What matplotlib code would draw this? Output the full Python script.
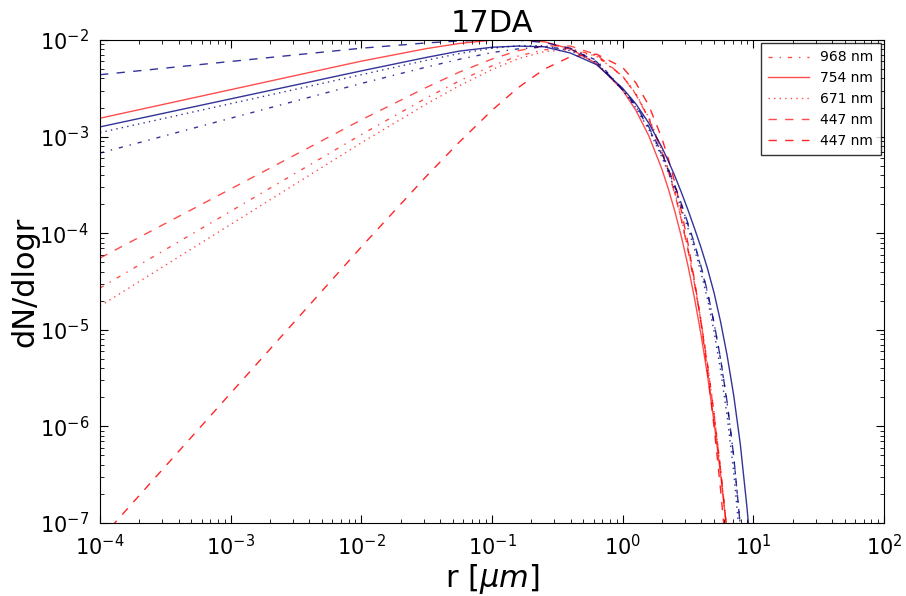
import matplotlib
matplotlib.use("Agg")
import matplotlib.pyplot as plt

# radius grid shared by all curves [um]
r = [1e-4, 1e-2, 3.16e-2, 5.62e-2, 1.0e-1, 1.58e-1, 2.51e-1, 3.98e-1, 6.31e-1,
     1.0, 1.259, 1.585, 1.995, 2.239, 2.512, 2.818, 3.162, 3.548, 3.981, 4.467,
     5.012, 5.623, 6.310, 7.079, 7.943, 8.913, 10.0]

# red set (labelled)
red_968 = [2.71e-5, 1.05e-3, 2.52e-3, 3.77e-3, 5.40e-3, 6.81e-3, 7.93e-3, 8.15e-3, 6.84e-3,
           4.19e-3, 2.75e-3, 1.55e-3, 7.18e-4, 4.46e-4, 2.59e-4, 1.39e-4, 6.85e-5, 3.06e-5,
           1.22e-5, 4.34e-6, 1.34e-6, 3.53e-7, 7.83e-8, 1.43e-8, 2.10e-9, 2.41e-10, 2.1e-11]
red_754 = [1.55e-3, 6.04e-3, 8.15e-3, 9.20e-3, 9.98e-3, 1.01e-2, 9.59e-3, 8.09e-3, 5.70e-3,
           3.02e-3, 1.88e-3, 1.02e-3, 4.62e-4, 2.86e-4, 1.67e-4, 9.14e-5, 4.60e-5, 2.12e-5,
           8.85e-6, 3.31e-6, 1.09e-6, 3.15e-7, 7.73e-8, 1.60e-8, 2.70e-9, 3.66e-10, 3.9e-11]
red_671 = [1.76e-5, 8.63e-4, 2.18e-3, 3.36e-3, 4.94e-3, 6.38e-3, 7.59e-3, 7.94e-3, 6.79e-3,
           4.23e-3, 2.80e-3, 1.58e-3, 7.35e-4, 4.56e-4, 2.65e-4, 1.43e-4, 7.01e-5, 3.12e-5,
           1.24e-5, 4.39e-6, 1.35e-6, 3.53e-7, 7.76e-8, 1.40e-8, 2.04e-9, 2.3e-10, 2.0e-11]
red_447a = [5.53e-5, 1.49e-3, 3.24e-3, 4.65e-3, 6.35e-3, 7.74e-3, 8.71e-3, 8.65e-3, 7.06e-3,
            4.21e-3, 2.74e-3, 1.53e-3, 7.01e-4, 4.35e-4, 2.52e-4, 1.36e-4, 6.67e-5, 2.99e-5,
            1.20e-5, 4.26e-6, 1.32e-6, 3.52e-7, 7.85e-8, 1.46e-8, 2.17e-9, 2.53e-10, 2.2e-11]
red_447b = [6.76e-8, 7.21e-5, 3.91e-4, 8.77e-4, 1.87e-3, 3.20e-3, 4.99e-3, 6.71e-3, 7.13e-3,
            5.20e-3, 3.62e-3, 2.10e-3, 9.64e-4, 5.87e-4, 3.30e-4, 1.69e-4, 7.83e-5, 3.24e-5,
            1.17e-5, 3.66e-6, 9.77e-7, 2.17e-7, 3.91e-8, 5.62e-9, 6.2e-10, 5.2e-11, 3.1e-12]

# blue set (not labelled)
blue_dashdot = [6.76e-4, 3.55e-3, 5.25e-3, 6.31e-3, 7.41e-3, 8.09e-3, 8.47e-3, 8.04e-3, 6.17e-3,
                3.07e-3, 2.05e-3, 1.22e-3, 6.49e-4, 4.49e-4, 3.01e-4, 1.95e-4, 1.22e-4, 7.55e-5,
                4.40e-5, 2.40e-5, 1.16e-5, 4.89e-6, 1.71e-6, 4.88e-7, 9.44e-8, 1.49e-8, 2.06e-9]
blue_solid = [1.26e-3, 4.79e-3, 6.61e-3, 7.67e-3, 8.41e-3, 8.65e-3, 8.51e-3, 7.33e-3, 5.56e-3,
              3.16e-3, 2.19e-3, 1.38e-3, 7.76e-4, 5.56e-4, 3.89e-4, 2.63e-4, 1.74e-4, 1.12e-4,
              7.08e-5, 4.27e-5, 2.40e-5, 1.20e-5, 5.37e-6, 2.09e-6, 6.61e-7, 1.51e-7, 2.82e-8]
blue_dotted = [1.10e-3, 4.37e-3, 6.17e-3, 7.24e-3, 8.22e-3, 8.71e-3, 8.71e-3, 7.76e-3, 5.82e-3,
               3.03e-3, 2.00e-3, 1.18e-3, 6.14e-4, 4.21e-4, 2.80e-4, 1.79e-4, 1.12e-4, 6.82e-5,
               3.87e-5, 2.06e-5, 9.48e-6, 3.77e-6, 1.26e-6, 3.33e-7, 6.03e-8, 8.3e-9, 1.1e-9]
blue_dashed = [4.37e-3, 8.22e-3, 9.33e-3, 9.77e-3, 1.00e-2, 9.95e-3, 9.44e-3, 8.22e-3, 5.96e-3,
               3.05e-3, 2.12e-3, 1.26e-3, 6.70e-4, 4.61e-4, 3.10e-4, 2.00e-4, 1.26e-4, 7.76e-5,
               4.53e-5, 2.45e-5, 1.17e-5, 4.95e-6, 1.76e-6, 4.90e-7, 9.44e-8, 1.45e-8, 1.86e-9]

labels = ['968 nm', '754 nm', '671 nm', '447 nm', '447 nm']

plt.rcParams['lines.dashed_pattern'] = [6, 6]
plt.rcParams['lines.dashdot_pattern'] = [3, 5, 1, 5]
plt.rcParams['lines.dotted_pattern'] = [1, 3]
plt.rcParams['lines.scale_dashes'] = False

fig = plt.figure(figsize=(9.06, 5.96), dpi=100)
ax = fig.add_axes([0.1104, 0.1225, 0.8653, 0.8104])

red = (1, 0, 0, 0.7)
navy = (0, 0, 0.5, 0.8)

ax.plot(r, red_968, '-.', color=red, lw=1, label=labels[0])
ax.plot(r, red_754, '-', color=red, lw=1, label=labels[1])
ax.plot(r, red_671, ':', color=red, lw=1, label=labels[2])
ax.plot(r, red_447a, '--', color=red, lw=1, label=labels[3])
ax.plot(r, red_447b, '--', color=(1, 0, 0, 0.85), lw=1, label=labels[4])

ax.plot(r, blue_dashdot, '-.', color=navy, lw=1)
ax.plot(r, blue_solid, '-', color=navy, lw=1)
ax.plot(r, blue_dotted, ':', color=navy, lw=1)
ax.plot(r, blue_dashed, '--', color=navy, lw=1)

ax.set_xscale('log')
ax.set_yscale('log')
ax.set_xlim(1e-4, 1e2)
ax.set_ylim(1e-7, 1e-2)

ax.tick_params(which='both', direction='in', top=True, right=True, labelsize=15)
ax.tick_params(which='major', length=6, pad=8)
ax.tick_params(which='minor', length=3)

ax.set_title('17DA', fontsize=22)
ax.set_xlabel(r'r [$\mu m$]', fontsize=22, labelpad=2)
ax.set_ylabel('dN/dlogr', fontsize=22, labelpad=0)

leg = ax.legend(loc='upper right', fontsize=10, fancybox=False, handlelength=3,
                borderpad=0.5, labelspacing=0.5, borderaxespad=0.25)
leg.get_frame().set_edgecolor('black')

fig.savefig('out.png', dpi=100, facecolor='white')
